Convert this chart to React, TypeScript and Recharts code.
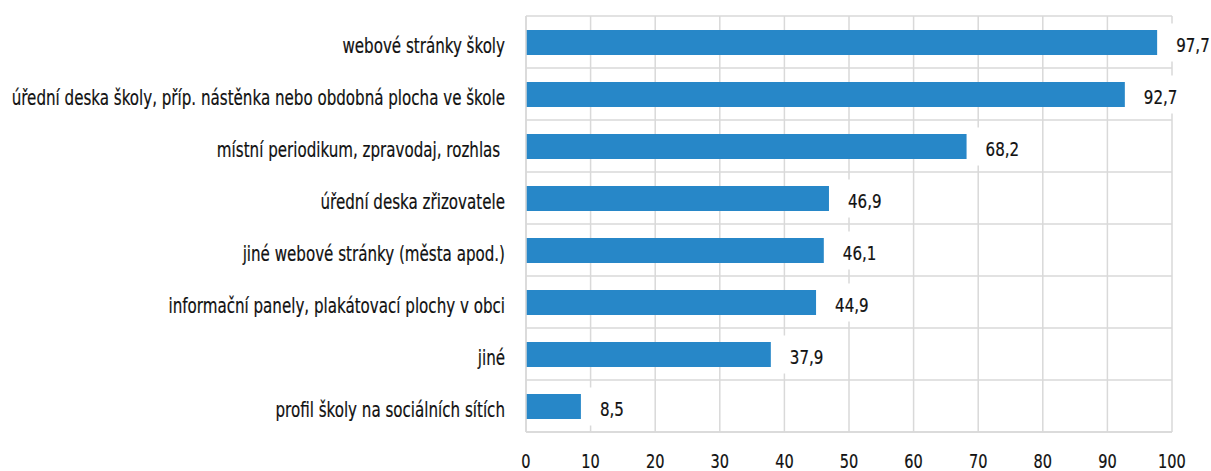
import { Bar, BarChart, CartesianGrid, LabelList, XAxis, YAxis } from 'recharts';

const categories = [
  'webové stránky školy',
  'úřední deska školy, příp. nástěnka nebo obdobná plocha ve škole',
  'místní periodikum, zpravodaj, rozhlas\u00a0',
  'úřední deska zřizovatele',
  'jiné webové stránky (města apod.)',
  'informační panely, plakátovací plochy v obci',
  'jiné',
  'profil školy na sociálních sítích',
];
const values = [97.7, 92.7, 68.2, 46.9, 46.1, 44.9, 37.9, 8.5];
const xTicks = [0, 10, 20, 30, 40, 50, 60, 70, 80, 90, 100];

const data = categories.map((name, i) => ({ name, value: values[i] }));

// no condensed font installed, so text gets squeezed horizontally
const FONT = '"DejaVu Sans Condensed", "DejaVu Sans", sans-serif';
const SQUEEZE = 0.8;
const GRID = '#d9d9d9';
const BAR = '#2787c8';
const INK = '#111';
const thick = { stroke: INK, strokeWidth: 0.2 };

const fmt = (v: number) => v.toFixed(1).replace('.', ',');

function CategoryTick({ x, y, payload }: any) {
  return (
    <g transform={`translate(${x},${y + 10.5}) scale(${SQUEEZE},1)`}>
      <text x={0} y={0} textAnchor="end" fontSize={21} fontFamily={FONT} fill={INK} {...thick}>
        {payload.value}
      </text>
    </g>
  );
}

function ValueTick({ x, y, payload }: any) {
  return (
    <g transform={`translate(${x},${y + 14}) scale(0.83,1)`}>
      <text x={0} y={0} textAnchor="middle" fontSize={19.5} fontFamily={FONT} fill={INK} {...thick}>
        {payload.value}
      </text>
    </g>
  );
}

function ValueLabel(props: any) {
  const { x, y, width, height, value } = props;
  const text = fmt(Number(value));
  const end = x + width;
  const cy = y + height / 2;
  const tw = text.length * 8.5;
  return (
    <g>
      <rect x={end + 8} y={cy - 19} width={tw + 20} height={38} fill="#fff" />
      <g transform={`translate(${end + 19},${cy + 9.5}) scale(0.84,1)`}>
        <text x={0} y={0} fontSize={20} fontFamily={FONT} fill={INK} {...thick}>
          {text}
        </text>
      </g>
    </g>
  );
}

export default function App() {
  return (
    <div style={{ position: 'absolute', left: 0, top: 0, background: '#fff' }}>
      <BarChart
        width={1211}
        height={471}
        data={data}
        layout="vertical"
        margin={{ top: 16, right: 39, left: 0, bottom: 9 }}
      >
        <CartesianGrid
          stroke={GRID}
          strokeWidth={1.5}
          horizontalCoordinatesGenerator={({ offset }: any) =>
            categories
              .map((_, i) => offset.top + (offset.height / categories.length) * i)
              .concat(offset.top + offset.height)
          }
        />
        <XAxis
          type="number"
          domain={[0, 100]}
          ticks={xTicks}
          interval={0}
          axisLine={{ stroke: GRID, strokeWidth: 1.5 }}
          tickLine={false}
          tickSize={0}
          tickMargin={22}
          height={30}
          tick={<ValueTick />}
        />
        <YAxis
          type="category"
          dataKey="name"
          width={526}
          axisLine={{ stroke: GRID, strokeWidth: 1.5 }}
          tickLine={false}
          tickSize={0}
          tickMargin={21}
          interval={0}
          tick={<CategoryTick />}
        />
        <Bar dataKey="value" fill={BAR} barSize={25} isAnimationActive={false}>
          <LabelList dataKey="value" content={<ValueLabel />} />
        </Bar>
      </BarChart>
    </div>
  );
}
